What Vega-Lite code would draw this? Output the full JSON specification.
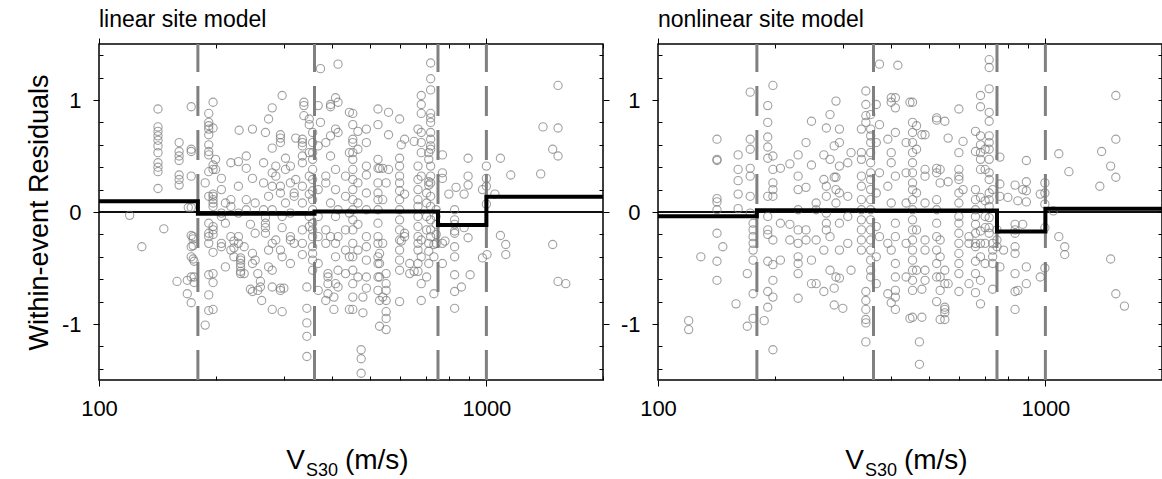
{
  "$schema": "https://vega.github.io/schema/vega-lite/v6.json",
  "padding": {"left": 24, "top": 7, "right": 0, "bottom": 0},
  "spacing": 7,
  "config": {
    "view": {"stroke": "black", "strokeWidth": 1.5},
    "font": "Liberation Sans",
    "title": {"font": "Liberation Sans", "fontSize": 23, "fontWeight": "normal", "color": "black", "anchor": "start", "frame": "group", "offset": 6},
    "axis": {"labelFont": "Liberation Sans", "titleFont": "Liberation Sans", "labelColor": "black", "titleColor": "black", "tickColor": "black", "grid": false, "domain": false, "labelFontSize": 22, "titleFontSize": 27, "titleFontWeight": "normal"}
  },
  "datasets": {
    "bounds": [{"b": 180}, {"b": 360}, {"b": 750}, {"b": 1000}],
    "steps": [
      {"m": "L", "v": 100, "r": 0.095}, {"m": "L", "v": 180, "r": -0.015}, {"m": "L", "v": 360, "r": 0.005}, {"m": "L", "v": 750, "r": -0.116}, {"m": "L", "v": 1000, "r": 0.137}, {"m": "L", "v": 2000, "r": 0.137},
      {"m": "N", "v": 100, "r": -0.039}, {"m": "N", "v": 180, "r": 0.015}, {"m": "N", "v": 360, "r": 0.013}, {"m": "N", "v": 750, "r": -0.173}, {"m": "N", "v": 1000, "r": 0.03}, {"m": "N", "v": 2000, "r": 0.03}
    ],
    "pts": [
      {"m":"L","v":120,"r":-0.03},{"m":"L","v":129,"r":-0.31},{"m":"L","v":147,"r":-0.15},
      {"m":"L","v":142,"r":0.92},{"m":"L","v":142,"r":0.76},{"m":"L","v":142,"r":0.72},{"m":"L","v":142,"r":0.68},{"m":"L","v":142,"r":0.64},{"m":"L","v":142,"r":0.59},{"m":"L","v":142,"r":0.53},{"m":"L","v":142,"r":0.44},{"m":"L","v":142,"r":0.40},{"m":"L","v":142,"r":0.36},{"m":"L","v":142,"r":0.21},
      {"m":"L","v":161,"r":0.62},{"m":"L","v":161,"r":0.54},{"m":"L","v":161,"r":0.50},{"m":"L","v":161,"r":0.46},{"m":"L","v":161,"r":0.33},{"m":"L","v":161,"r":0.29},{"m":"L","v":161,"r":0.24},
      {"m":"L","v":159,"r":-0.62},{"m":"L","v":169,"r":-0.61},{"m":"L","v":169,"r":-0.73},
      {"m":"L","v":173,"r":0.94},{"m":"L","v":173,"r":0.56},{"m":"L","v":173,"r":0.54},{"m":"L","v":173,"r":0.32},{"m":"L","v":173,"r":0.04},{"m":"L","v":173,"r":-0.21},{"m":"L","v":173,"r":-0.31},{"m":"L","v":173,"r":-0.40},{"m":"L","v":173,"r":-0.58},{"m":"L","v":173,"r":-0.81},
      {"m":"L","v":170,"r":0.04},{"m":"L","v":175,"r":-0.22},{"m":"L","v":175,"r":-0.24},{"m":"L","v":175,"r":-0.30},{"m":"L","v":175,"r":-0.42},
      {"m":"L","v":176,"r":-0.44},{"m":"L","v":176,"r":-0.58},{"m":"L","v":176,"r":-0.63},
      {"m":"L","v":188,"r":-1.01},{"m":"L","v":188,"r":0.26},
      {"m":"L","v":192,"r":0.88},{"m":"L","v":192,"r":0.80},{"m":"L","v":192,"r":0.77},{"m":"L","v":192,"r":0.74},{"m":"L","v":192,"r":0.69},{"m":"L","v":192,"r":0.60},{"m":"L","v":192,"r":0.54},{"m":"L","v":192,"r":0.51},{"m":"L","v":192,"r":0.36},{"m":"L","v":192,"r":0.14},{"m":"L","v":192,"r":-0.10},{"m":"L","v":192,"r":-0.19},{"m":"L","v":192,"r":-0.22},{"m":"L","v":192,"r":-0.28},{"m":"L","v":192,"r":-0.56},{"m":"L","v":192,"r":-0.74},{"m":"L","v":192,"r":-0.88},
      {"m":"L","v":197,"r":0.98},{"m":"L","v":197,"r":0.75},{"m":"L","v":197,"r":0.42},{"m":"L","v":197,"r":0.38},{"m":"L","v":197,"r":0.16},{"m":"L","v":197,"r":0.14},{"m":"L","v":197,"r":0.11},{"m":"L","v":197,"r":0.08},{"m":"L","v":197,"r":0.05},{"m":"L","v":197,"r":-0.13},{"m":"L","v":197,"r":-0.16},{"m":"L","v":197,"r":-0.20},{"m":"L","v":197,"r":-0.36},{"m":"L","v":197,"r":-0.55},{"m":"L","v":197,"r":-0.63},{"m":"L","v":197,"r":-0.87},
      {"m":"L","v":200,"r":0.47},{"m":"L","v":200,"r":0.38},
      {"m":"L","v":207,"r":0.30},{"m":"L","v":207,"r":0.20},{"m":"L","v":207,"r":-0.01},{"m":"L","v":207,"r":-0.04},{"m":"L","v":207,"r":-0.28},{"m":"L","v":207,"r":-0.31},
      {"m":"L","v":212,"r":-0.49},{"m":"L","v":212,"r":0.08},{"m":"L","v":212,"r":-0.10},
      {"m":"L","v":219,"r":0.44},{"m":"L","v":219,"r":0.11},{"m":"L","v":219,"r":0.05},{"m":"L","v":219,"r":-0.22},{"m":"L","v":219,"r":-0.34},
      {"m":"L","v":223,"r":-0.26},{"m":"L","v":223,"r":-0.32},{"m":"L","v":223,"r":-0.40},
      {"m":"L","v":229,"r":0.45},{"m":"L","v":229,"r":0.23},{"m":"L","v":229,"r":-0.01},{"m":"L","v":229,"r":-0.22},{"m":"L","v":229,"r":-0.28},{"m":"L","v":230,"r":0.73},
      {"m":"L","v":232,"r":-0.41},{"m":"L","v":232,"r":-0.43},{"m":"L","v":232,"r":-0.46},{"m":"L","v":232,"r":-0.49},{"m":"L","v":232,"r":-0.53},{"m":"L","v":232,"r":-0.55},
      {"m":"L","v":237,"r":-0.55},{"m":"L","v":237,"r":-0.31},
      {"m":"L","v":240,"r":0.50},{"m":"L","v":240,"r":0.39},{"m":"L","v":240,"r":0.11},{"m":"L","v":240,"r":0.02},
      {"m":"L","v":246,"r":-0.69},{"m":"L","v":246,"r":-0.11},
      {"m":"L","v":249,"r":0.74},{"m":"L","v":249,"r":0.30},{"m":"L","v":249,"r":-0.37},{"m":"L","v":249,"r":-0.46},{"m":"L","v":249,"r":-0.71},
      {"m":"L","v":253,"r":0.08},{"m":"L","v":253,"r":-0.19},{"m":"L","v":253,"r":-0.43},
      {"m":"L","v":257,"r":-0.55},{"m":"L","v":257,"r":-0.70},{"m":"L","v":261,"r":-0.62},{"m":"L","v":261,"r":-0.67},{"m":"L","v":263,"r":-0.79},
      {"m":"L","v":266,"r":0.44},{"m":"L","v":266,"r":0.26},{"m":"L","v":266,"r":0.02},
      {"m":"L","v":269,"r":0.71},{"m":"L","v":269,"r":-0.05},{"m":"L","v":269,"r":-0.10},{"m":"L","v":269,"r":-0.14},{"m":"L","v":269,"r":-0.19},
      {"m":"L","v":274,"r":0.83},{"m":"L","v":274,"r":0.14},{"m":"L","v":274,"r":-0.34},{"m":"L","v":274,"r":-0.49},
      {"m":"L","v":280,"r":0.93},{"m":"L","v":280,"r":0.57},{"m":"L","v":280,"r":0.35},{"m":"L","v":280,"r":0.23},{"m":"L","v":280,"r":0.02},{"m":"L","v":280,"r":-0.28},{"m":"L","v":280,"r":-0.52},{"m":"L","v":280,"r":-0.67},{"m":"L","v":280,"r":-0.87},
      {"m":"L","v":286,"r":0.41},{"m":"L","v":286,"r":0.32},{"m":"L","v":286,"r":-0.25},
      {"m":"L","v":294,"r":0.69},{"m":"L","v":294,"r":0.66},{"m":"L","v":294,"r":0.62},{"m":"L","v":294,"r":0.23},{"m":"L","v":294,"r":0.17},{"m":"L","v":294,"r":-0.34},{"m":"L","v":294,"r":-0.68},{"m":"L","v":294,"r":-0.70},
      {"m":"L","v":297,"r":1.04},{"m":"L","v":297,"r":-0.04},{"m":"L","v":297,"r":-0.14},{"m":"L","v":297,"r":-0.40},{"m":"L","v":297,"r":-0.89},{"m":"L","v":300,"r":-0.68},
      {"m":"L","v":303,"r":0.48},{"m":"L","v":303,"r":0.38},{"m":"L","v":303,"r":0.08},
      {"m":"L","v":312,"r":0.26},{"m":"L","v":312,"r":0.41},{"m":"L","v":312,"r":-0.01},{"m":"L","v":312,"r":-0.22},{"m":"L","v":312,"r":-0.25},{"m":"L","v":312,"r":-0.46},
      {"m":"L","v":319,"r":0.17},{"m":"L","v":319,"r":0.14},{"m":"L","v":319,"r":-0.28},{"m":"L","v":322,"r":0.66},{"m":"L","v":322,"r":0.29},
      {"m":"L","v":335,"r":0.65},{"m":"L","v":335,"r":0.62},{"m":"L","v":335,"r":0.59},{"m":"L","v":335,"r":0.50},{"m":"L","v":335,"r":0.44},{"m":"L","v":335,"r":0.23},{"m":"L","v":335,"r":0.08},{"m":"L","v":335,"r":-0.16},{"m":"L","v":335,"r":-0.28},{"m":"L","v":335,"r":-0.38},
      {"m":"L","v":338,"r":0.98},{"m":"L","v":338,"r":0.95},{"m":"L","v":338,"r":0.86},
      {"m":"L","v":344,"r":-0.67},{"m":"L","v":344,"r":-0.86},{"m":"L","v":344,"r":-0.99},{"m":"L","v":344,"r":-1.11},{"m":"L","v":344,"r":-1.29},
      {"m":"L","v":349,"r":0.83},{"m":"L","v":349,"r":0.78},{"m":"L","v":349,"r":0.53},{"m":"L","v":349,"r":0.32},{"m":"L","v":349,"r":0.16},{"m":"L","v":349,"r":-0.04},{"m":"L","v":349,"r":-0.13},
      {"m":"L","v":356,"r":0.71},{"m":"L","v":356,"r":0.62},{"m":"L","v":356,"r":0.53},{"m":"L","v":356,"r":0.47},{"m":"L","v":356,"r":0.38},{"m":"L","v":356,"r":0.29},{"m":"L","v":356,"r":0.19},{"m":"L","v":356,"r":0.11},{"m":"L","v":356,"r":0.02},{"m":"L","v":356,"r":-0.10},{"m":"L","v":356,"r":-0.16},{"m":"L","v":356,"r":-0.22},{"m":"L","v":356,"r":-0.31},{"m":"L","v":356,"r":-0.37},{"m":"L","v":356,"r":-0.43},{"m":"L","v":356,"r":-0.52},
      {"m":"L","v":368,"r":0.95},{"m":"L","v":368,"r":0.59},{"m":"L","v":368,"r":0.20},{"m":"L","v":368,"r":-0.04},{"m":"L","v":368,"r":-0.22},{"m":"L","v":368,"r":-0.46},{"m":"L","v":368,"r":-0.70},
      {"m":"L","v":373,"r":1.28},{"m":"L","v":373,"r":0.80},
      {"m":"L","v":385,"r":0.62},{"m":"L","v":385,"r":0.32},{"m":"L","v":385,"r":0.26},{"m":"L","v":385,"r":-0.16},{"m":"L","v":385,"r":-0.28},{"m":"L","v":385,"r":-0.79},
      {"m":"L","v":390,"r":-0.55},{"m":"L","v":390,"r":-0.58},{"m":"L","v":390,"r":-0.64},{"m":"L","v":390,"r":-0.73},
      {"m":"L","v":396,"r":0.96},{"m":"L","v":396,"r":0.94},{"m":"L","v":396,"r":0.68},{"m":"L","v":396,"r":0.50},{"m":"L","v":396,"r":0.08},{"m":"L","v":396,"r":-0.22},
      {"m":"L","v":404,"r":-0.76},{"m":"L","v":404,"r":-0.87},
      {"m":"L","v":408,"r":1.02},{"m":"L","v":408,"r":0.74},{"m":"L","v":408,"r":0.38},{"m":"L","v":408,"r":0.20},{"m":"L","v":408,"r":-0.04},{"m":"L","v":408,"r":-0.28},{"m":"L","v":408,"r":-0.40},{"m":"L","v":408,"r":-0.64},
      {"m":"L","v":414,"r":1.32},{"m":"L","v":414,"r":0.98},{"m":"L","v":414,"r":0.71},{"m":"L","v":414,"r":0.02},{"m":"L","v":414,"r":-0.22},{"m":"L","v":414,"r":-0.52},{"m":"L","v":414,"r":-0.67},
      {"m":"L","v":433,"r":0.32},{"m":"L","v":433,"r":0.14},{"m":"L","v":433,"r":-0.16},{"m":"L","v":433,"r":-0.34},{"m":"L","v":433,"r":-0.55},
      {"m":"L","v":443,"r":0.89},{"m":"L","v":443,"r":0.53},{"m":"L","v":443,"r":-0.01},{"m":"L","v":443,"r":-0.40},{"m":"L","v":443,"r":-0.87},
      {"m":"L","v":452,"r":0.88},{"m":"L","v":452,"r":0.78},{"m":"L","v":452,"r":0.65},{"m":"L","v":452,"r":0.62},{"m":"L","v":452,"r":0.53},{"m":"L","v":452,"r":0.47},{"m":"L","v":452,"r":0.38},{"m":"L","v":452,"r":0.29},{"m":"L","v":452,"r":0.20},{"m":"L","v":452,"r":0.11},{"m":"L","v":452,"r":0.02},{"m":"L","v":452,"r":-0.07},{"m":"L","v":452,"r":-0.16},{"m":"L","v":452,"r":-0.28},{"m":"L","v":452,"r":-0.40},{"m":"L","v":452,"r":-0.52},{"m":"L","v":452,"r":-0.64},{"m":"L","v":452,"r":-0.76},{"m":"L","v":452,"r":-0.87},
      {"m":"L","v":466,"r":0.72},{"m":"L","v":466,"r":0.56},{"m":"L","v":466,"r":0.26},{"m":"L","v":466,"r":0.08},{"m":"L","v":466,"r":-0.11},{"m":"L","v":466,"r":-0.34},{"m":"L","v":466,"r":-0.58},
      {"m":"L","v":475,"r":-1.23},{"m":"L","v":475,"r":-1.31},{"m":"L","v":475,"r":-1.44},{"m":"L","v":480,"r":-0.90},{"m":"L","v":480,"r":-0.76},
      {"m":"L","v":490,"r":0.74},{"m":"L","v":490,"r":0.62},{"m":"L","v":490,"r":0.41},{"m":"L","v":490,"r":0.33},{"m":"L","v":490,"r":0.17},{"m":"L","v":490,"r":0.02},{"m":"L","v":490,"r":-0.22},{"m":"L","v":490,"r":-0.31},{"m":"L","v":490,"r":-0.43},{"m":"L","v":490,"r":-0.58},{"m":"L","v":490,"r":-0.68},
      {"m":"L","v":525,"r":0.92},{"m":"L","v":525,"r":0.78},{"m":"L","v":525,"r":0.47},{"m":"L","v":525,"r":0.39},{"m":"L","v":525,"r":0.26},{"m":"L","v":525,"r":0.17},{"m":"L","v":525,"r":0.11},{"m":"L","v":525,"r":0.02},{"m":"L","v":525,"r":-0.10},{"m":"L","v":525,"r":-0.22},{"m":"L","v":525,"r":-0.28},{"m":"L","v":525,"r":-0.40},{"m":"L","v":525,"r":-0.46},{"m":"L","v":525,"r":-0.58},{"m":"L","v":525,"r":-0.70},
      {"m":"L","v":530,"r":0.39},{"m":"L","v":530,"r":-0.37},{"m":"L","v":530,"r":-0.46},{"m":"L","v":530,"r":-0.58},{"m":"L","v":530,"r":-0.79},{"m":"L","v":530,"r":-1.02},
      {"m":"L","v":540,"r":0.39},{"m":"L","v":540,"r":0.11},{"m":"L","v":540,"r":-0.28},{"m":"L","v":540,"r":-0.76},
      {"m":"L","v":551,"r":0.26},{"m":"L","v":551,"r":-0.55},{"m":"L","v":551,"r":-0.64},{"m":"L","v":551,"r":-0.70},{"m":"L","v":551,"r":-0.79},{"m":"L","v":551,"r":-0.89},{"m":"L","v":551,"r":-0.95},{"m":"L","v":551,"r":-1.05},
      {"m":"L","v":559,"r":0.89},{"m":"L","v":559,"r":0.69},{"m":"L","v":559,"r":0.38},
      {"m":"L","v":597,"r":0.83},{"m":"L","v":597,"r":0.48},{"m":"L","v":597,"r":0.41},{"m":"L","v":597,"r":0.32},{"m":"L","v":597,"r":0.26},{"m":"L","v":597,"r":0.19},{"m":"L","v":597,"r":0.11},{"m":"L","v":597,"r":0.02},{"m":"L","v":597,"r":-0.07},{"m":"L","v":597,"r":-0.16},{"m":"L","v":597,"r":-0.25},{"m":"L","v":597,"r":-0.34},{"m":"L","v":597,"r":-0.43},{"m":"L","v":597,"r":-0.52},{"m":"L","v":597,"r":-0.80},
      {"m":"L","v":603,"r":0.60},{"m":"L","v":603,"r":-0.26},
      {"m":"L","v":615,"r":0.65},{"m":"L","v":615,"r":0.16},{"m":"L","v":615,"r":-0.19},{"m":"L","v":615,"r":-0.22},
      {"m":"L","v":634,"r":-0.55},{"m":"L","v":634,"r":-0.46},{"m":"L","v":651,"r":0.63},{"m":"L","v":651,"r":-0.53},
      {"m":"L","v":666,"r":0.74},{"m":"L","v":666,"r":0.41},{"m":"L","v":666,"r":0.29},{"m":"L","v":666,"r":0.20},{"m":"L","v":666,"r":0.11},{"m":"L","v":666,"r":0.05},{"m":"L","v":666,"r":-0.04},{"m":"L","v":666,"r":-0.13},{"m":"L","v":666,"r":-0.22},{"m":"L","v":666,"r":-0.28},{"m":"L","v":666,"r":-0.34},{"m":"L","v":666,"r":-0.46},{"m":"L","v":666,"r":-0.53},
      {"m":"L","v":679,"r":1.04},{"m":"L","v":679,"r":0.96},{"m":"L","v":679,"r":0.88},{"m":"L","v":679,"r":0.71},{"m":"L","v":679,"r":0.62},{"m":"L","v":679,"r":0.53},{"m":"L","v":679,"r":0.32},{"m":"L","v":679,"r":-0.25},{"m":"L","v":679,"r":-0.40},{"m":"L","v":679,"r":-0.64},{"m":"L","v":679,"r":-0.79},
      {"m":"L","v":701,"r":0.17},{"m":"L","v":701,"r":0.08},{"m":"L","v":701,"r":-0.04},{"m":"L","v":701,"r":-0.16},{"m":"L","v":701,"r":-0.58},
      {"m":"L","v":710,"r":0.53},{"m":"L","v":710,"r":0.47},{"m":"L","v":710,"r":0.27},{"m":"L","v":710,"r":0.24},{"m":"L","v":710,"r":-0.28},{"m":"L","v":710,"r":-0.35},{"m":"L","v":710,"r":-0.46},
      {"m":"L","v":718,"r":1.33},{"m":"L","v":718,"r":1.19},{"m":"L","v":718,"r":1.09},{"m":"L","v":718,"r":0.88},{"m":"L","v":718,"r":0.84},{"m":"L","v":718,"r":0.80},{"m":"L","v":718,"r":0.71},{"m":"L","v":718,"r":0.65},{"m":"L","v":718,"r":0.59},{"m":"L","v":718,"r":0.56},{"m":"L","v":718,"r":0.41},{"m":"L","v":718,"r":0.32},{"m":"L","v":718,"r":0.26},{"m":"L","v":718,"r":0.14},{"m":"L","v":718,"r":0.05},{"m":"L","v":718,"r":-0.07},{"m":"L","v":718,"r":-0.16},{"m":"L","v":718,"r":-0.22},
      {"m":"L","v":732,"r":-0.29},{"m":"L","v":732,"r":-0.40},{"m":"L","v":732,"r":-0.73},
      {"m":"L","v":742,"r":0.02},{"m":"L","v":742,"r":-0.04},{"m":"L","v":742,"r":-0.11},{"m":"L","v":742,"r":-0.20},{"m":"L","v":742,"r":-0.28},
      {"m":"L","v":770,"r":0.51},{"m":"L","v":770,"r":0.35},{"m":"L","v":770,"r":0.30},{"m":"L","v":770,"r":-0.28},{"m":"L","v":770,"r":-0.46},
      {"m":"L","v":782,"r":-0.26},{"m":"L","v":800,"r":0.16},
      {"m":"L","v":828,"r":0.02},{"m":"L","v":828,"r":-0.07},{"m":"L","v":828,"r":-0.11},{"m":"L","v":828,"r":-0.17},{"m":"L","v":828,"r":-0.19},{"m":"L","v":828,"r":-0.31},{"m":"L","v":828,"r":-0.40},{"m":"L","v":828,"r":-0.56},{"m":"L","v":828,"r":-0.71},{"m":"L","v":828,"r":-0.86},
      {"m":"L","v":835,"r":0.22},{"m":"L","v":862,"r":-0.67},{"m":"L","v":876,"r":0.16},{"m":"L","v":876,"r":-0.14},
      {"m":"L","v":897,"r":0.48},{"m":"L","v":897,"r":0.32},{"m":"L","v":897,"r":0.24},{"m":"L","v":897,"r":-0.23},{"m":"L","v":908,"r":-0.56},
      {"m":"L","v":977,"r":-0.41},{"m":"L","v":977,"r":0.20},
      {"m":"L","v":1000,"r":0.41},{"m":"L","v":1000,"r":0.30},{"m":"L","v":1000,"r":0.23},{"m":"L","v":1000,"r":0.07},{"m":"L","v":1004,"r":-0.38},
      {"m":"L","v":1052,"r":0.16},{"m":"L","v":1087,"r":0.48},{"m":"L","v":1087,"r":-0.21},{"m":"L","v":1122,"r":-0.29},{"m":"L","v":1122,"r":-0.38},{"m":"L","v":1156,"r":0.33},
      {"m":"L","v":1381,"r":0.34},{"m":"L","v":1400,"r":0.76},{"m":"L","v":1483,"r":0.56},{"m":"L","v":1483,"r":-0.29},
      {"m":"L","v":1531,"r":1.13},{"m":"L","v":1531,"r":0.75},{"m":"L","v":1531,"r":0.50},{"m":"L","v":1531,"r":-0.62},{"m":"L","v":1603,"r":-0.64},

      {"m":"N","v":120,"r":-0.97},{"m":"N","v":120,"r":-1.05},{"m":"N","v":129,"r":-0.40},
      {"m":"N","v":142,"r":0.65},{"m":"N","v":142,"r":0.47},{"m":"N","v":142,"r":0.46},{"m":"N","v":142,"r":0.12},{"m":"N","v":142,"r":0.09},{"m":"N","v":142,"r":0.02},{"m":"N","v":142,"r":-0.19},{"m":"N","v":142,"r":-0.44},{"m":"N","v":142,"r":-0.61},
      {"m":"N","v":147,"r":-0.31},{"m":"N","v":159,"r":-0.82},
      {"m":"N","v":161,"r":0.51},{"m":"N","v":161,"r":0.38},{"m":"N","v":161,"r":0.28},{"m":"N","v":161,"r":0.16},{"m":"N","v":161,"r":0.03},
      {"m":"N","v":170,"r":-0.55},{"m":"N","v":170,"r":-1.02},
      {"m":"N","v":173,"r":1.07},{"m":"N","v":173,"r":0.65},{"m":"N","v":173,"r":0.56},{"m":"N","v":173,"r":0.39},{"m":"N","v":173,"r":0.32},{"m":"N","v":173,"r":0.14},{"m":"N","v":173,"r":-0.01},
      {"m":"N","v":176,"r":-0.10},{"m":"N","v":176,"r":-0.16},{"m":"N","v":176,"r":-0.22},{"m":"N","v":176,"r":-0.28},{"m":"N","v":176,"r":-0.34},{"m":"N","v":176,"r":-0.43},{"m":"N","v":176,"r":-0.73},{"m":"N","v":176,"r":-0.95},
      {"m":"N","v":188,"r":-0.97},
      {"m":"N","v":192,"r":0.95},{"m":"N","v":192,"r":0.80},{"m":"N","v":192,"r":0.67},{"m":"N","v":192,"r":0.58},{"m":"N","v":192,"r":0.48},{"m":"N","v":192,"r":0.14},{"m":"N","v":192,"r":-0.04},{"m":"N","v":192,"r":-0.16},{"m":"N","v":192,"r":-0.20},{"m":"N","v":192,"r":-0.44},{"m":"N","v":192,"r":-0.71},{"m":"N","v":192,"r":-0.85},
      {"m":"N","v":198,"r":1.13},{"m":"N","v":198,"r":0.50},{"m":"N","v":198,"r":0.38},{"m":"N","v":198,"r":0.26},{"m":"N","v":198,"r":0.20},{"m":"N","v":198,"r":0.14},{"m":"N","v":198,"r":-0.25},{"m":"N","v":198,"r":-0.47},{"m":"N","v":198,"r":-0.61},{"m":"N","v":198,"r":-0.76},{"m":"N","v":198,"r":-1.23},
      {"m":"N","v":207,"r":0.39},{"m":"N","v":207,"r":-0.10},{"m":"N","v":207,"r":-0.43},
      {"m":"N","v":219,"r":0.43},{"m":"N","v":219,"r":-0.11},{"m":"N","v":219,"r":-0.25},
      {"m":"N","v":230,"r":0.51},{"m":"N","v":230,"r":0.32},{"m":"N","v":230,"r":0.20},{"m":"N","v":230,"r":0.02},{"m":"N","v":230,"r":-0.16},{"m":"N","v":230,"r":-0.28},{"m":"N","v":230,"r":-0.40},{"m":"N","v":230,"r":-0.46},{"m":"N","v":230,"r":-0.55},{"m":"N","v":230,"r":-0.77},
      {"m":"N","v":241,"r":0.62},{"m":"N","v":241,"r":0.22},{"m":"N","v":241,"r":-0.16},{"m":"N","v":241,"r":-0.25},
      {"m":"N","v":249,"r":0.81},{"m":"N","v":249,"r":0.42},{"m":"N","v":249,"r":-0.43},{"m":"N","v":249,"r":-0.64},
      {"m":"N","v":256,"r":0.08},{"m":"N","v":256,"r":0.02},{"m":"N","v":256,"r":-0.25},{"m":"N","v":256,"r":-0.64},
      {"m":"N","v":268,"r":0.51},{"m":"N","v":268,"r":0.29},{"m":"N","v":268,"r":-0.34},{"m":"N","v":268,"r":-0.71},
      {"m":"N","v":272,"r":0.75},{"m":"N","v":272,"r":0.23},{"m":"N","v":272,"r":0.14},{"m":"N","v":272,"r":-0.01},{"m":"N","v":272,"r":-0.10},{"m":"N","v":272,"r":-0.16},
      {"m":"N","v":278,"r":0.87},{"m":"N","v":278,"r":0.47},{"m":"N","v":278,"r":-0.22},{"m":"N","v":278,"r":-0.52},
      {"m":"N","v":285,"r":0.59},{"m":"N","v":285,"r":0.31},{"m":"N","v":285,"r":-0.68},{"m":"N","v":285,"r":-0.83},
      {"m":"N","v":288,"r":0.99},{"m":"N","v":288,"r":0.31},{"m":"N","v":288,"r":0.20},{"m":"N","v":288,"r":0.08},{"m":"N","v":288,"r":-0.58},
      {"m":"N","v":294,"r":0.74},{"m":"N","v":294,"r":0.62},{"m":"N","v":294,"r":0.41},{"m":"N","v":294,"r":0.17},{"m":"N","v":294,"r":-0.10},{"m":"N","v":294,"r":-0.34},{"m":"N","v":294,"r":-0.59},
      {"m":"N","v":300,"r":-0.86},
      {"m":"N","v":309,"r":0.44},{"m":"N","v":309,"r":0.14},{"m":"N","v":309,"r":-0.04},{"m":"N","v":309,"r":-0.28},
      {"m":"N","v":315,"r":0.53},{"m":"N","v":315,"r":-0.52},
      {"m":"N","v":335,"r":0.74},{"m":"N","v":335,"r":0.53},{"m":"N","v":335,"r":0.47},{"m":"N","v":335,"r":0.32},{"m":"N","v":335,"r":0.23},{"m":"N","v":335,"r":0.11},{"m":"N","v":335,"r":0.02},{"m":"N","v":335,"r":-0.07},{"m":"N","v":335,"r":-0.16},{"m":"N","v":335,"r":-0.25},{"m":"N","v":335,"r":-0.34},
      {"m":"N","v":344,"r":1.08},{"m":"N","v":344,"r":0.96},{"m":"N","v":344,"r":0.86},{"m":"N","v":344,"r":0.80},{"m":"N","v":344,"r":-0.71},{"m":"N","v":344,"r":-0.79},{"m":"N","v":344,"r":-0.87},{"m":"N","v":344,"r":-0.96},{"m":"N","v":344,"r":-0.99},{"m":"N","v":344,"r":-1.16},
      {"m":"N","v":354,"r":0.87},{"m":"N","v":354,"r":0.74},{"m":"N","v":354,"r":0.68},{"m":"N","v":354,"r":0.62},{"m":"N","v":354,"r":0.53},{"m":"N","v":354,"r":0.44},{"m":"N","v":354,"r":0.35},{"m":"N","v":354,"r":0.29},{"m":"N","v":354,"r":0.20},{"m":"N","v":354,"r":0.11},{"m":"N","v":354,"r":0.02},{"m":"N","v":354,"r":-0.07},{"m":"N","v":354,"r":-0.16},{"m":"N","v":354,"r":-0.25},{"m":"N","v":354,"r":-0.34},{"m":"N","v":354,"r":-0.43},{"m":"N","v":354,"r":-0.52},{"m":"N","v":354,"r":-0.58},
      {"m":"N","v":366,"r":0.96},{"m":"N","v":366,"r":0.62},{"m":"N","v":366,"r":0.17},{"m":"N","v":366,"r":-0.13},{"m":"N","v":366,"r":-0.40},{"m":"N","v":366,"r":-0.64},
      {"m":"N","v":373,"r":1.32},{"m":"N","v":373,"r":0.78},{"m":"N","v":373,"r":0.35},{"m":"N","v":373,"r":-0.22},
      {"m":"N","v":392,"r":0.65},{"m":"N","v":392,"r":0.23},{"m":"N","v":392,"r":-0.28},{"m":"N","v":392,"r":-0.73},
      {"m":"N","v":400,"r":1.02},{"m":"N","v":400,"r":0.98},{"m":"N","v":400,"r":0.53},{"m":"N","v":400,"r":0.44},{"m":"N","v":400,"r":0.08},{"m":"N","v":400,"r":-0.34},{"m":"N","v":400,"r":-0.81},
      {"m":"N","v":410,"r":1.02},{"m":"N","v":410,"r":0.93},{"m":"N","v":410,"r":0.71},{"m":"N","v":410,"r":0.32},{"m":"N","v":410,"r":-0.10},{"m":"N","v":410,"r":-0.22},{"m":"N","v":410,"r":-0.46},{"m":"N","v":410,"r":-0.58},{"m":"N","v":410,"r":-0.70},{"m":"N","v":410,"r":-0.76},{"m":"N","v":410,"r":-0.87},
      {"m":"N","v":416,"r":1.31},
      {"m":"N","v":437,"r":0.62},{"m":"N","v":437,"r":0.35},{"m":"N","v":437,"r":0.08},{"m":"N","v":437,"r":-0.28},{"m":"N","v":437,"r":-0.58},
      {"m":"N","v":447,"r":0.98},{"m":"N","v":447,"r":-0.95},
      {"m":"N","v":454,"r":0.98},{"m":"N","v":454,"r":0.80},{"m":"N","v":454,"r":0.71},{"m":"N","v":454,"r":0.62},{"m":"N","v":454,"r":0.53},{"m":"N","v":454,"r":0.44},{"m":"N","v":454,"r":0.35},{"m":"N","v":454,"r":0.26},{"m":"N","v":454,"r":0.20},{"m":"N","v":454,"r":0.11},{"m":"N","v":454,"r":0.02},{"m":"N","v":454,"r":-0.07},{"m":"N","v":454,"r":-0.16},{"m":"N","v":454,"r":-0.25},{"m":"N","v":454,"r":-0.34},{"m":"N","v":454,"r":-0.43},{"m":"N","v":454,"r":-0.52},{"m":"N","v":454,"r":-0.61},{"m":"N","v":454,"r":-0.70},{"m":"N","v":454,"r":-0.94},
      {"m":"N","v":465,"r":0.77},{"m":"N","v":465,"r":0.56},{"m":"N","v":465,"r":0.17},{"m":"N","v":465,"r":-0.16},{"m":"N","v":465,"r":-0.52},
      {"m":"N","v":473,"r":-1.16},{"m":"N","v":473,"r":-1.36},
      {"m":"N","v":480,"r":-0.94},{"m":"N","v":480,"r":-0.69},{"m":"N","v":480,"r":0.69},
      {"m":"N","v":489,"r":0.69},{"m":"N","v":489,"r":0.38},{"m":"N","v":489,"r":0.32},{"m":"N","v":489,"r":0.08},{"m":"N","v":489,"r":-0.25},{"m":"N","v":489,"r":-0.34},{"m":"N","v":489,"r":-0.52},{"m":"N","v":489,"r":-0.61},
      {"m":"N","v":524,"r":0.84},{"m":"N","v":524,"r":0.82},{"m":"N","v":524,"r":0.39},{"m":"N","v":524,"r":0.35},{"m":"N","v":524,"r":0.11},{"m":"N","v":524,"r":0.02},{"m":"N","v":524,"r":-0.10},{"m":"N","v":524,"r":-0.22},{"m":"N","v":524,"r":-0.34},{"m":"N","v":524,"r":-0.46},{"m":"N","v":524,"r":-0.58},{"m":"N","v":524,"r":-0.80},
      {"m":"N","v":535,"r":0.38},{"m":"N","v":535,"r":0.26},{"m":"N","v":535,"r":-0.25},{"m":"N","v":535,"r":-0.40},{"m":"N","v":535,"r":-0.58},{"m":"N","v":535,"r":-0.70},{"m":"N","v":535,"r":-0.96},
      {"m":"N","v":550,"r":0.81},{"m":"N","v":550,"r":-0.85},{"m":"N","v":550,"r":-0.87},{"m":"N","v":550,"r":-0.90},{"m":"N","v":550,"r":-0.96},{"m":"N","v":550,"r":-0.52},{"m":"N","v":550,"r":-0.64},
      {"m":"N","v":561,"r":0.66},{"m":"N","v":561,"r":0.27},{"m":"N","v":561,"r":-0.64},
      {"m":"N","v":598,"r":0.92},{"m":"N","v":598,"r":0.53},{"m":"N","v":598,"r":0.38},{"m":"N","v":598,"r":0.32},{"m":"N","v":598,"r":0.29},{"m":"N","v":598,"r":0.17},{"m":"N","v":598,"r":0.08},{"m":"N","v":598,"r":-0.04},{"m":"N","v":598,"r":-0.10},{"m":"N","v":598,"r":-0.19},{"m":"N","v":598,"r":-0.28},{"m":"N","v":598,"r":-0.37},{"m":"N","v":598,"r":-0.46},{"m":"N","v":598,"r":-0.55},{"m":"N","v":598,"r":-0.71},
      {"m":"N","v":613,"r":0.63},{"m":"N","v":613,"r":0.20},
      {"m":"N","v":635,"r":-0.22},{"m":"N","v":635,"r":-0.28},{"m":"N","v":635,"r":-0.64},
      {"m":"N","v":660,"r":0.72},{"m":"N","v":660,"r":0.54},{"m":"N","v":660,"r":0.20},{"m":"N","v":660,"r":0.11},{"m":"N","v":660,"r":0.02},{"m":"N","v":660,"r":-0.04},{"m":"N","v":660,"r":-0.11},{"m":"N","v":660,"r":-0.19},{"m":"N","v":660,"r":-0.28},{"m":"N","v":660,"r":-0.31},{"m":"N","v":660,"r":-0.44},{"m":"N","v":660,"r":-0.55},{"m":"N","v":660,"r":-0.72},
      {"m":"N","v":680,"r":1.04},{"m":"N","v":680,"r":0.94},{"m":"N","v":680,"r":0.68},{"m":"N","v":680,"r":0.60},{"m":"N","v":680,"r":0.53},{"m":"N","v":680,"r":0.47},{"m":"N","v":680,"r":0.38},{"m":"N","v":680,"r":0.13},{"m":"N","v":680,"r":-0.17},{"m":"N","v":680,"r":-0.28},{"m":"N","v":680,"r":-0.40},{"m":"N","v":680,"r":-0.61},{"m":"N","v":680,"r":-0.82},
      {"m":"N","v":699,"r":0.56},{"m":"N","v":699,"r":0.38},{"m":"N","v":699,"r":0.10},{"m":"N","v":699,"r":-0.04},{"m":"N","v":699,"r":-0.14},{"m":"N","v":699,"r":-0.28},{"m":"N","v":699,"r":-0.46},
      {"m":"N","v":716,"r":1.36},{"m":"N","v":716,"r":1.29},{"m":"N","v":716,"r":1.10},{"m":"N","v":716,"r":0.89},{"m":"N","v":716,"r":0.81},{"m":"N","v":716,"r":0.68},{"m":"N","v":716,"r":0.62},{"m":"N","v":716,"r":0.56},{"m":"N","v":716,"r":0.47},{"m":"N","v":716,"r":0.35},{"m":"N","v":716,"r":0.29},{"m":"N","v":716,"r":0.17},{"m":"N","v":716,"r":0.11},{"m":"N","v":716,"r":0.05},{"m":"N","v":716,"r":-0.05},{"m":"N","v":716,"r":-0.14},{"m":"N","v":716,"r":-0.19},
      {"m":"N","v":731,"r":0.20},{"m":"N","v":731,"r":-0.28},{"m":"N","v":731,"r":-0.34},{"m":"N","v":731,"r":-0.40},{"m":"N","v":731,"r":-0.46},{"m":"N","v":731,"r":-0.69},
      {"m":"N","v":750,"r":-0.16},{"m":"N","v":750,"r":-0.25},{"m":"N","v":750,"r":-0.31},
      {"m":"N","v":763,"r":0.49},{"m":"N","v":763,"r":0.25},{"m":"N","v":763,"r":0.14},{"m":"N","v":763,"r":-0.49},
      {"m":"N","v":780,"r":-0.34},{"m":"N","v":800,"r":0.13},
      {"m":"N","v":835,"r":0.24},{"m":"N","v":835,"r":-0.11},{"m":"N","v":835,"r":-0.16},{"m":"N","v":835,"r":-0.19},{"m":"N","v":835,"r":-0.31},{"m":"N","v":835,"r":-0.37},{"m":"N","v":835,"r":-0.55},{"m":"N","v":835,"r":-0.71},{"m":"N","v":835,"r":-0.87},
      {"m":"N","v":849,"r":0.10},{"m":"N","v":849,"r":-0.70},{"m":"N","v":874,"r":0.20},{"m":"N","v":874,"r":-0.11},
      {"m":"N","v":893,"r":0.46},{"m":"N","v":893,"r":0.27},{"m":"N","v":893,"r":0.19},{"m":"N","v":893,"r":0.09},{"m":"N","v":893,"r":-0.49},{"m":"N","v":893,"r":-0.64},
      {"m":"N","v":970,"r":0.16},{"m":"N","v":970,"r":-0.58},
      {"m":"N","v":997,"r":0.26},{"m":"N","v":997,"r":0.17},{"m":"N","v":997,"r":0.07},{"m":"N","v":997,"r":-0.14},{"m":"N","v":997,"r":-0.50},
      {"m":"N","v":1048,"r":0.01},{"m":"N","v":1083,"r":0.52},{"m":"N","v":1083,"r":-0.22},{"m":"N","v":1122,"r":-0.31},{"m":"N","v":1122,"r":-0.38},{"m":"N","v":1150,"r":0.36},
      {"m":"N","v":1382,"r":0.23},{"m":"N","v":1397,"r":0.54},{"m":"N","v":1474,"r":0.41},{"m":"N","v":1474,"r":-0.42},
      {"m":"N","v":1520,"r":1.04},{"m":"N","v":1520,"r":0.65},{"m":"N","v":1520,"r":0.31},{"m":"N","v":1520,"r":-0.73},{"m":"N","v":1600,"r":-0.84}
    ]
  },
  "hconcat": [
    {
      "width": 504, "height": 336,
      "title": {"text": "linear site model"},
      "resolve": {"axis": {"x": "independent", "y": "independent"}},
      "layer": [
        {
          "data": {"name": "bounds"},
          "mark": {"type": "rule", "color": "#808080", "strokeWidth": 3, "strokeDash": [30, 14]},
          "encoding": {
            "x": {"field": "b", "type": "quantitative", "scale": {"type": "log", "domain": [100, 2000], "nice": false}, "axis": null},
            "y": {"datum": -1.5, "type": "quantitative", "scale": {"domain": [-1.5, 1.5], "nice": false}, "axis": null},
            "y2": {"datum": 1.5}
          }
        },
        {
          "data": {"name": "bounds"},
          "mark": {"type": "rule", "color": "black", "strokeWidth": 1.2},
          "encoding": {"y": {"datum": 0, "type": "quantitative", "scale": {"domain": [-1.5, 1.5], "nice": false}, "axis": null}}
        },
        {
          "data": {"name": "pts"},
          "transform": [{"filter": "datum.m == 'L'"}],
          "mark": {"type": "point", "shape": "circle", "filled": false, "stroke": "#7a7a7a", "strokeWidth": 1.1, "size": 68},
          "encoding": {
            "x": {"field": "v", "type": "quantitative", "scale": {"type": "log", "domain": [100, 2000], "nice": false},
              "axis": {"orient": "bottom", "title": null, "values": [100, 200, 300, 400, 500, 600, 700, 800, 900, 1000, 2000],
                "labelExpr": "datum.value == 100 ? '100' : (datum.value == 1000 ? '1000' : '')",
                "tickSize": {"condition": {"test": "datum.value == 100 || datum.value == 1000", "value": 6}, "value": -4},
                "labelPadding": 12, "labelFlush": false, "labelOverlap": false}},
            "y": {"field": "r", "type": "quantitative", "scale": {"domain": [-1.5, 1.5], "nice": false},
              "axis": {"orient": "left", "title": "Within-event Residuals", "titlePadding": 8,
                "values": [-1.4, -1.2, -1, -0.8, -0.6, -0.4, -0.2, 0, 0.2, 0.4, 0.6, 0.8, 1, 1.2, 1.4],
                "labelExpr": "datum.value == 1 ? '1' : (datum.value == 0 ? '0' : (datum.value == -1 ? '-1' : ''))",
                "tickSize": {"condition": {"test": "datum.value == 1 || datum.value == 0 || datum.value == -1", "value": 6}, "value": -4},
                "labelPadding": 12, "labelOverlap": false}}
          }
        },
        {
          "data": {"name": "steps"},
          "transform": [{"filter": "datum.m == 'L'"}],
          "mark": {"type": "line", "interpolate": "step-after", "color": "black", "strokeWidth": 4},
          "encoding": {
            "x": {"field": "v", "type": "quantitative", "scale": {"type": "log", "domain": [100, 2000], "nice": false},
              "axis": {"orient": "top", "title": null, "labels": false, "values": [100, 200, 300, 400, 500, 600, 700, 800, 900, 1000, 2000],
                "tickSize": {"condition": {"test": "datum.value == 100 || datum.value == 1000", "value": 6}, "value": -4}}},
            "y": {"field": "r", "type": "quantitative", "scale": {"domain": [-1.5, 1.5], "nice": false},
              "axis": {"orient": "right", "title": null, "labels": false,
                "values": [-1.4, -1.2, -1, -0.8, -0.6, -0.4, -0.2, 0, 0.2, 0.4, 0.6, 0.8, 1, 1.2, 1.4],
                "tickSize": {"condition": {"test": "datum.value == 1 || datum.value == 0 || datum.value == -1", "value": 6}, "value": -4}}}
          }
        },
        {
          "data": {"name": "bounds"},
          "transform": [{"filter": "datum.b == 180"}],
          "layer": [
            {"mark": {"type": "text", "text": "V", "fontSize": 28, "align": "right", "baseline": "alphabetic", "dy": 89, "color": "black"}},
            {"mark": {"type": "text", "text": "S30", "fontSize": 18, "align": "left", "baseline": "alphabetic", "dy": 96, "dx": 1, "color": "black"}},
            {"mark": {"type": "text", "text": "(m/s)", "fontSize": 28, "align": "left", "baseline": "alphabetic", "dy": 89, "dx": 40, "color": "black"}}
          ],
          "encoding": {
            "x": {"datum": 340, "type": "quantitative", "scale": {"type": "log", "domain": [100, 2000], "nice": false}, "axis": null},
            "y": {"datum": -1.5, "type": "quantitative", "scale": {"domain": [-1.5, 1.5], "nice": false}, "axis": null}
          }
        }
      ]
    },
    {
      "width": 504, "height": 336,
      "title": {"text": "nonlinear site model"},
      "resolve": {"axis": {"x": "independent", "y": "independent"}},
      "layer": [
        {
          "data": {"name": "bounds"},
          "mark": {"type": "rule", "color": "#808080", "strokeWidth": 3, "strokeDash": [30, 14]},
          "encoding": {
            "x": {"field": "b", "type": "quantitative", "scale": {"type": "log", "domain": [100, 2000], "nice": false}, "axis": null},
            "y": {"datum": -1.5, "type": "quantitative", "scale": {"domain": [-1.5, 1.5], "nice": false}, "axis": null},
            "y2": {"datum": 1.5}
          }
        },
        {
          "data": {"name": "bounds"},
          "mark": {"type": "rule", "color": "black", "strokeWidth": 1.2},
          "encoding": {"y": {"datum": 0, "type": "quantitative", "scale": {"domain": [-1.5, 1.5], "nice": false}, "axis": null}}
        },
        {
          "data": {"name": "pts"},
          "transform": [{"filter": "datum.m == 'N'"}],
          "mark": {"type": "point", "shape": "circle", "filled": false, "stroke": "#7a7a7a", "strokeWidth": 1.1, "size": 68},
          "encoding": {
            "x": {"field": "v", "type": "quantitative", "scale": {"type": "log", "domain": [100, 2000], "nice": false},
              "axis": {"orient": "bottom", "title": null, "values": [100, 200, 300, 400, 500, 600, 700, 800, 900, 1000, 2000],
                "labelExpr": "datum.value == 100 ? '100' : (datum.value == 1000 ? '1000' : '')",
                "tickSize": {"condition": {"test": "datum.value == 100 || datum.value == 1000", "value": 6}, "value": -4},
                "labelPadding": 12, "labelFlush": false, "labelOverlap": false}},
            "y": {"field": "r", "type": "quantitative", "scale": {"domain": [-1.5, 1.5], "nice": false},
              "axis": {"orient": "left", "title": null,
                "values": [-1.4, -1.2, -1, -0.8, -0.6, -0.4, -0.2, 0, 0.2, 0.4, 0.6, 0.8, 1, 1.2, 1.4],
                "labelExpr": "datum.value == 1 ? '1' : (datum.value == 0 ? '0' : (datum.value == -1 ? '-1' : ''))",
                "tickSize": {"condition": {"test": "datum.value == 1 || datum.value == 0 || datum.value == -1", "value": 6}, "value": -4},
                "labelPadding": 12, "labelOverlap": false}}
          }
        },
        {
          "data": {"name": "steps"},
          "transform": [{"filter": "datum.m == 'N'"}],
          "mark": {"type": "line", "interpolate": "step-after", "color": "black", "strokeWidth": 4},
          "encoding": {
            "x": {"field": "v", "type": "quantitative", "scale": {"type": "log", "domain": [100, 2000], "nice": false},
              "axis": {"orient": "top", "title": null, "labels": false, "values": [100, 200, 300, 400, 500, 600, 700, 800, 900, 1000, 2000],
                "tickSize": {"condition": {"test": "datum.value == 100 || datum.value == 1000", "value": 6}, "value": -4}}},
            "y": {"field": "r", "type": "quantitative", "scale": {"domain": [-1.5, 1.5], "nice": false},
              "axis": {"orient": "right", "title": null, "labels": false,
                "values": [-1.4, -1.2, -1, -0.8, -0.6, -0.4, -0.2, 0, 0.2, 0.4, 0.6, 0.8, 1, 1.2, 1.4],
                "tickSize": -4}}
          }
        },
        {
          "data": {"name": "bounds"},
          "transform": [{"filter": "datum.b == 180"}],
          "layer": [
            {"mark": {"type": "text", "text": "V", "fontSize": 28, "align": "right", "baseline": "alphabetic", "dy": 89, "color": "black"}},
            {"mark": {"type": "text", "text": "S30", "fontSize": 18, "align": "left", "baseline": "alphabetic", "dy": 96, "dx": 1, "color": "black"}},
            {"mark": {"type": "text", "text": "(m/s)", "fontSize": 28, "align": "left", "baseline": "alphabetic", "dy": 89, "dx": 40, "color": "black"}}
          ],
          "encoding": {
            "x": {"datum": 340, "type": "quantitative", "scale": {"type": "log", "domain": [100, 2000], "nice": false}, "axis": null},
            "y": {"datum": -1.5, "type": "quantitative", "scale": {"domain": [-1.5, 1.5], "nice": false}, "axis": null}
          }
        }
      ]
    }
  ]
}
